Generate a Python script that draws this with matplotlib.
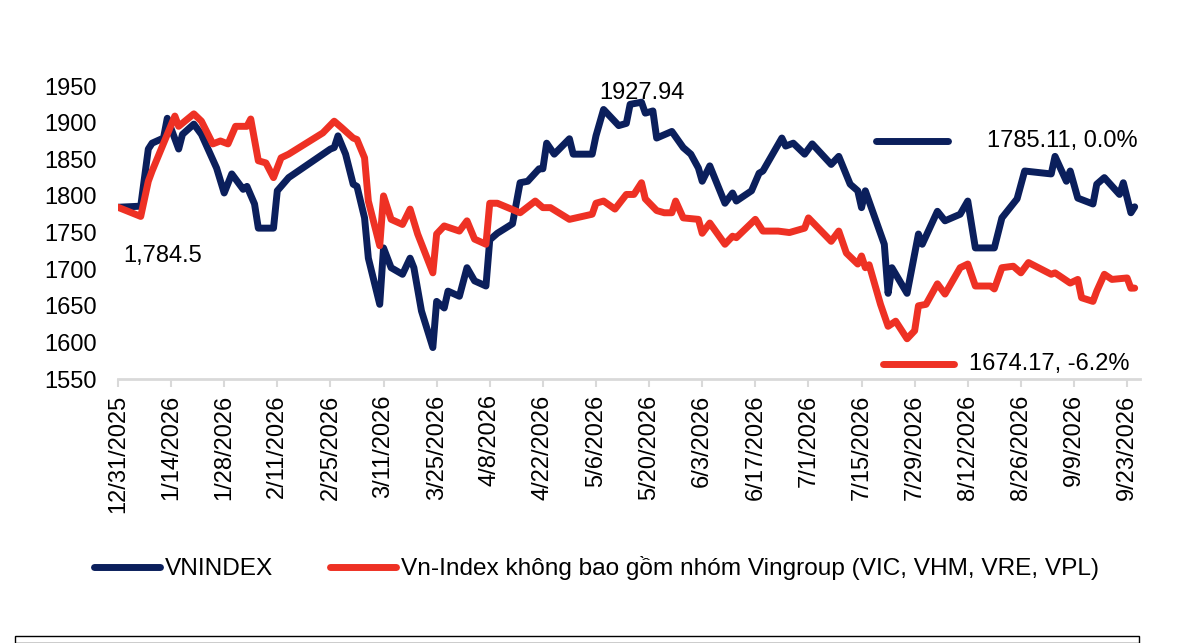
import matplotlib
matplotlib.use("Agg")
import matplotlib.pyplot as plt
from matplotlib.lines import Line2D
from matplotlib.patches import Rectangle
import pandas as pd

plt.rcParams["font.family"] = ["Liberation Sans", "DejaVu Sans"]

NAVY = "#0b1f5c"
RED = "#ee3124"
GRID = "#d9d9d9"

START = pd.Timestamp("2025-12-31")

# ── Data (days after 12/31/2025, index level) ─────────────────────
vni_days = [0, 6, 8, 9, 12, 13, 16, 17, 20, 22, 24, 26, 28, 30, 33, 34, 36, 37,
            41, 42, 45, 56, 57, 58, 60, 62, 63, 65, 66, 69, 70, 72, 75, 77, 78,
            80, 83, 84, 86, 87, 90, 92, 94, 97, 98, 100, 104, 106, 108, 111, 112,
            113, 115, 119, 120, 125, 126, 128, 132, 134, 135, 138, 139, 141, 142,
            146, 149, 151, 153, 154, 156, 160, 162, 163, 167, 169, 170, 175, 176,
            178, 181, 183, 188, 190, 193, 195, 196, 197, 202, 203, 204, 208, 211,
            212, 216, 218, 222, 224, 226, 231, 233, 237, 239, 246, 247, 250, 251,
            253, 257, 258, 260, 264, 265, 267, 268]
vni_vals = [1784.5, 1786, 1864, 1872, 1879, 1906, 1864, 1884, 1898, 1884, 1861,
            1838, 1804, 1830, 1809, 1813, 1789, 1756, 1756, 1807, 1825, 1864,
            1866, 1882, 1857, 1816, 1813, 1770, 1715, 1652, 1729, 1702, 1693,
            1715, 1702, 1643, 1593, 1656, 1647, 1670, 1663, 1702, 1684, 1677,
            1740, 1749, 1762, 1818, 1820, 1837, 1837, 1872, 1857, 1878, 1857,
            1857, 1882, 1918, 1896, 1899, 1925, 1927.94, 1913, 1916, 1879, 1888,
            1866, 1857, 1838, 1820, 1841, 1790, 1804, 1793, 1807, 1831, 1834,
            1879, 1868, 1872, 1857, 1871, 1843, 1854, 1816, 1807, 1784, 1807,
            1734, 1667, 1702, 1667, 1748, 1734, 1779, 1766, 1775, 1793, 1729,
            1729, 1770, 1796, 1834, 1830, 1854, 1820, 1834, 1797, 1789, 1816,
            1825, 1802, 1818, 1777, 1785.11]

exvin_days = [0, 6, 8, 9, 13, 15, 16, 20, 22, 25, 27, 29, 31, 34, 35, 37, 39, 41,
              43, 45, 54, 57, 59, 62, 63, 65, 66, 69, 70, 72, 75, 77, 79, 83, 84,
              86, 90, 92, 94, 97, 98, 100, 106, 110, 112, 114, 119, 125, 126, 128,
              131, 134, 136, 138, 139, 142, 144, 146, 147, 149, 153, 154, 156, 160,
              162, 163, 168, 170, 174, 177, 181, 182, 188, 190, 192, 195, 196, 197,
              198, 201, 203, 205, 208, 210, 211, 213, 216, 218, 220, 222, 224, 226,
              230, 231, 233, 236, 238, 240, 246, 247, 251, 253, 254, 257, 258, 260,
              262, 266, 267, 268]
exvin_vals = [1784.5, 1772, 1820, 1834, 1884, 1909, 1895, 1912, 1902, 1871, 1875,
              1871, 1895, 1895, 1905, 1848, 1845, 1825, 1852, 1857, 1886, 1902,
              1893, 1879, 1877, 1852, 1793, 1732, 1800, 1768, 1761, 1782, 1748,
              1695, 1748, 1759, 1752, 1766, 1741, 1734, 1790, 1790, 1777, 1793,
              1784, 1784, 1768, 1775, 1790, 1793, 1782, 1802, 1802, 1818, 1796,
              1780, 1777, 1777, 1793, 1770, 1768, 1749, 1763, 1734, 1745, 1743,
              1768, 1752, 1752, 1750, 1756, 1770, 1738, 1752, 1722, 1707, 1718,
              1702, 1706, 1652, 1622, 1629, 1605, 1616, 1650, 1652, 1680, 1666,
              1684, 1702, 1707, 1677, 1677, 1673, 1702, 1704, 1695, 1709, 1693,
              1695, 1681, 1686, 1661, 1656, 1670, 1693, 1686, 1688, 1674, 1674.17]

vni_dates = START + pd.to_timedelta(vni_days, unit="D")
exvin_dates = START + pd.to_timedelta(exvin_days, unit="D")

y_ticks = [1550, 1600, 1650, 1700, 1750, 1800, 1850, 1900, 1950]
x_ticks = pd.date_range(START, "2026-09-23", freq="14D")
x_labels = [f"{d.month}/{d.day}/{d.year}" for d in x_ticks]

legend_labels = ["VNINDEX",
                 "Vn-Index không bao gồm nhóm Vingroup (VIC, VHM, VRE, VPL)"]

FS = 17

# ── Figure ────────────────────────────────────────────────────────
fig = plt.figure(figsize=(12, 6.43), dpi=100)
ax = fig.add_axes([0.0983, 0.4105, 0.8517, 0.4557])

ax.plot(vni_dates, vni_vals, color=NAVY, lw=5, solid_joinstyle="round",
        solid_capstyle="round", zorder=3)
ax.plot(exvin_dates, exvin_vals, color=RED, lw=5, solid_joinstyle="round",
        solid_capstyle="round", zorder=4)

ax.set_ylim(1550, 1950)
ax.set_xlim(START, START + pd.Timedelta(days=269.4))
ax.set_yticks(y_ticks)
ax.set_xticks(x_ticks)
ax.set_xticklabels(x_labels, rotation=90, fontsize=FS)
ax.tick_params(axis="y", length=0, labelsize=FS, pad=15)
ax.tick_params(axis="x", length=6, width=1.5, color=GRID, pad=5)
for s in ["top", "right", "left"]:
    ax.spines[s].set_visible(False)
ax.spines["bottom"].set_color(GRID)
ax.spines["bottom"].set_linewidth(2)

# annotations
ax.text(0.005, 0.42, "1,784.5", transform=ax.transAxes, fontsize=FS,
        ha="left", va="center")
ax.text(vni_dates[vni_vals.index(max(vni_vals))], 1941, f"{max(vni_vals):.2f}",
        fontsize=FS, ha="center", va="center")

# end-value labels with keys
ax.add_line(Line2D([0.742, 0.812], [0.814, 0.814], transform=ax.transAxes,
                   color=NAVY, lw=5, solid_capstyle="round", clip_on=False))
ax.text(0.998, 0.814, f"{vni_vals[-1]:.2f}, {(vni_vals[-1] / vni_vals[0] - 1) * 100:.1f}%",
        transform=ax.transAxes, fontsize=FS, ha="right", va="center")
ax.add_line(Line2D([0.749, 0.818], [0.05, 0.05], transform=ax.transAxes,
                   color=RED, lw=5, solid_capstyle="round", clip_on=False))
ax.text(0.99, 0.05, f"{exvin_vals[-1]:.2f}, {(exvin_vals[-1] / exvin_vals[0] - 1) * 100:.1f}%",
        transform=ax.transAxes, fontsize=FS, ha="right", va="center")

# bottom legend
handles = [Line2D([], [], color=NAVY, lw=5, solid_capstyle="round"),
           Line2D([], [], color=RED, lw=5, solid_capstyle="round")]
fig.legend(handles, legend_labels, loc="center", bbox_to_anchor=(0.497, 0.116),
           ncol=2, frameon=False, fontsize=17.6, handlelength=2.7,
           handletextpad=0.2, columnspacing=2.3)

# box below (cut off at the image edge)
fig.add_artist(Rectangle((0.0125, 0.0), 0.937, 0.0115, transform=fig.transFigure,
                         fill=False, edgecolor="black", lw=1))

fig.savefig("out.png", dpi=100)
